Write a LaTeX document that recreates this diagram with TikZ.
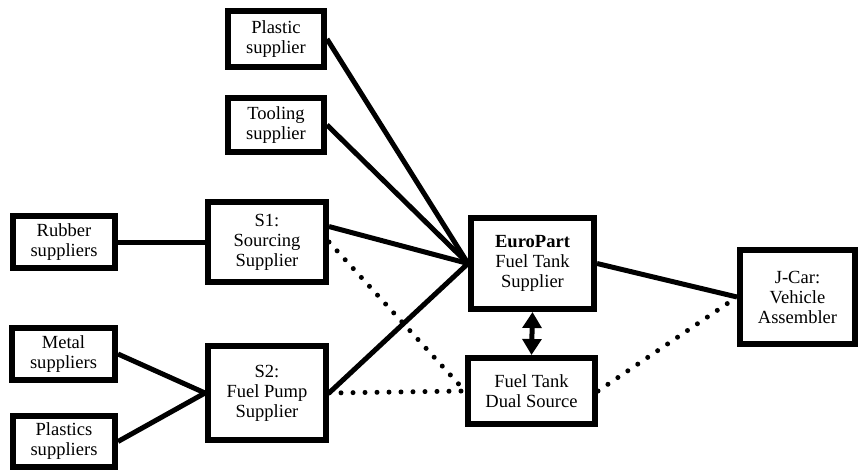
\documentclass[tikz,border=0pt]{standalone}
\usepackage{fontspec}
\setmainfont{Liberation Serif}
\usetikzlibrary{arrows.meta}
\tikzset{
  chain style/.style={
    x=0.75pt,y=-0.75pt,
  },
  party node/.style={
    draw,
    line width=4.5pt,
    align=center,
    inner sep=0pt,
    font=\fontsize{13.9}{15}\selectfont,
  },
  party/.style 2 args={
    party node,
    minimum width=#1*0.75pt,
    minimum height=#2*0.75pt,
  },
  supply bond/.style={
    draw,
    line width=3.75pt,
  },
  option bond/.style={
    supply bond,
    dash pattern=on 0pt off 9pt,
    line cap=round,
  },
  swap bond/.style={
    draw,
    line width=3.75pt,
    {Triangle[length=12pt,width=14pt]}-{Triangle[length=12pt,width=14pt]},
  },
}

\begin{document}
\begin{tikzpicture}[chain style]
  \useasboundingbox (0,0) rectangle (859,470);
  \node[party={96}{56}] (plastic) at (276,39) {Plastic\\supplier};
  \node[party={96}{54}] (tooling) at (276,125) {Tooling\\supplier};
  \node[party={102}{52}] (rubber) at (64,242) {Rubber\\suppliers};
  \node[party={118}{80}] (s1) at (267,242) {S1:\\Sourcing\\Supplier};
  \node[party={103}{52}] (metal) at (63.5,354) {Metal\\suppliers};
  \node[party={102}{51}] (plastics) at (64,441.5) {Plastics\\suppliers};
  \node[party={118}{94}] (s2) at (267,393) {S2:\\Fuel Pump\\Supplier};
  \node[party={123}{91}] (europart) at (532.5,263.5) {\textbf{EuroPart}\\Fuel Tank\\Supplier};
  \node[party={127}{66}] (dual) at (531.5,391) {Fuel Tank\\Dual Source};
  \node[party={115}{94}] (jcar) at (797.5,297) {J-Car:\\Vehicle\\Assembler};

  \draw[supply bond] (plastic.east) -- (europart.west);
  \draw[supply bond] (tooling.east) -- (europart.west);
  \draw[supply bond] (s1.14) -- (europart.west);
  \draw[supply bond] (s2.east) -- (europart.west);
  \draw[supply bond] (rubber.east) -- (s1.west);
  \draw[supply bond] (metal.east) -- (s2.west);
  \draw[supply bond] (plastics.east) -- (s2.west);
  \draw[supply bond] (europart.east) -- (jcar.west);
  \draw[option bond] (s1.east) -- (dual.west);
  \draw[option bond] (s2.east) -- (dual.west);
  \draw[option bond] (dual.east) -- (jcar.west);
  \draw[swap bond] (europart.south) -- (dual.north);
\end{tikzpicture}
\end{document}
